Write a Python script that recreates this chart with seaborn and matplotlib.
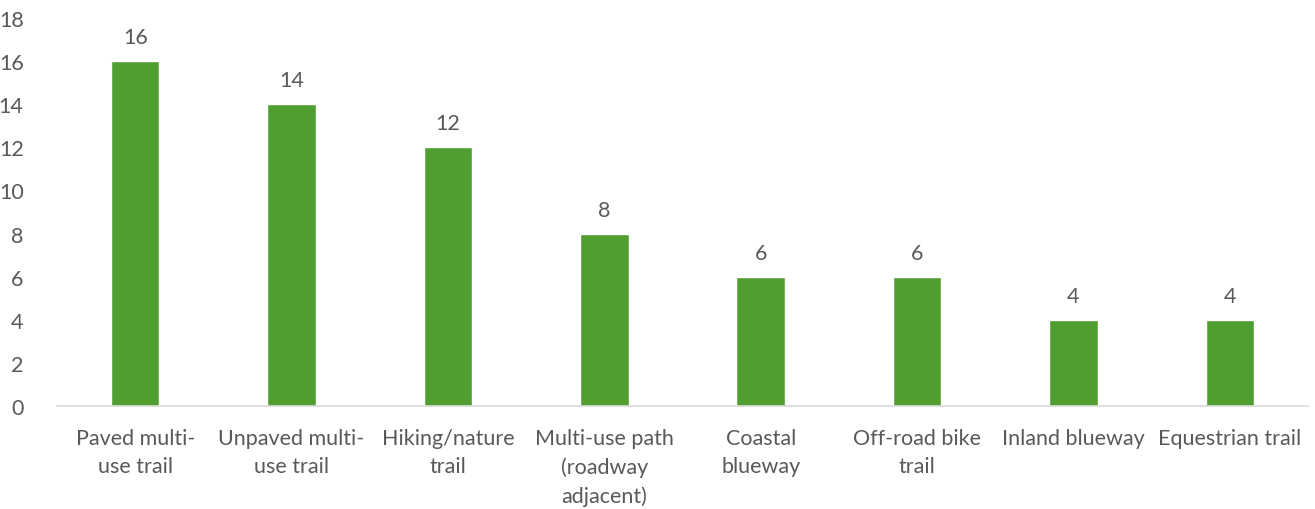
import matplotlib
matplotlib.use("Agg")
import matplotlib.pyplot as plt
import seaborn as sns
import pandas as pd

categories = ["Paved multi-\nuse trail", "Unpaved multi-\nuse trail", "Hiking/nature\ntrail",
              "Multi-use path\n(roadway\nadjacent)", "Coastal\nblueway", "Off-road bike\ntrail",
              "Inland blueway", "Equestrian trail"]
values = [16, 14, 12, 8, 6, 6, 4, 4]
yticks = [0, 2, 4, 6, 8, 10, 12, 14, 16, 18]

sns.set_theme(style="white")
plt.rcParams['font.family'] = ['Lato', 'DejaVu Sans']

df = pd.DataFrame({"cat": categories, "val": values})
fig = plt.figure(figsize=(13.15, 5.1), dpi=100)
ax = fig.add_axes([57/1315, 103/510, (1308-57)/1315, (407-19)/510])
sns.barplot(data=df, x="cat", y="val", color="#509E2F", saturation=1, width=0.31, ax=ax)
ax.set_ylim(0, 18)
ax.set_yticks(yticks)
ax.set_xlim(-0.5, len(categories) - 0.5)
ax.set_xlabel("")
ax.set_ylabel("")
txt = "#595959"
fs = 15.5
ax.tick_params(axis="y", length=0, labelsize=fs, labelcolor=txt, pad=24)
ax.tick_params(axis="x", length=0, labelsize=fs, labelcolor=txt, pad=16)
for lab in ax.get_xticklabels():
    lab.set_linespacing(1.5)
for s in ["top", "right", "left"]:
    ax.spines[s].set_visible(False)
ax.spines["bottom"].set_color("#D9D9D9")
ax.spines["bottom"].set_linewidth(1.2)
for c in ax.containers:
    ax.bar_label(c, labels=[str(v) for v in values], padding=10, fontsize=fs, color=txt)
fig.savefig("out.png", dpi=100)
